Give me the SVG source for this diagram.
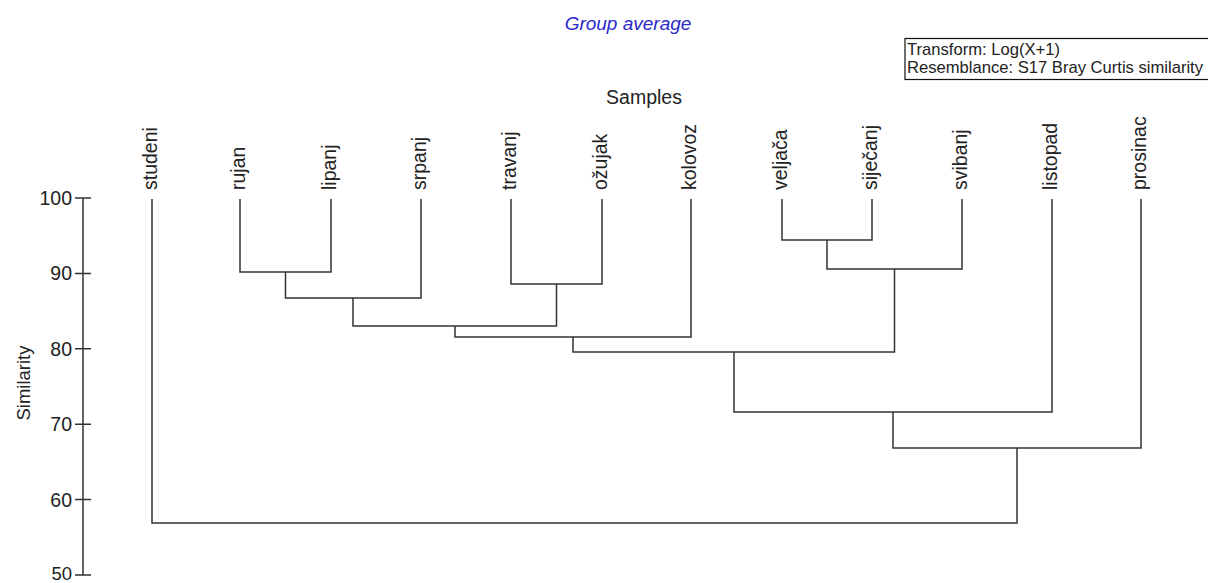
<svg xmlns="http://www.w3.org/2000/svg" width="1208" height="583" viewBox="0 0 1208 583">
<style>
text{font-family:"Liberation Sans",Arial,sans-serif;fill:#222}
.leaf{font-size:19.5px}
.tick{font-size:19.5px;text-anchor:end}
.ln{fill:none;stroke:#333;stroke-width:1.5}
.title{font-size:19px;font-style:italic;fill:#2a2ac8;text-anchor:middle}
.lg{font-size:16.6px}
</style>
<rect width="1208" height="583" fill="#fff"/>
<text class="title" x="628" y="30">Group average</text>
<g id="legend">
<rect x="905" y="38.5" width="340" height="41" fill="none" stroke="#111" stroke-width="1.2"/>
<text class="lg" x="907" y="55">Transform: Log(X+1)</text>
<text class="lg" x="907" y="73">Resemblance: S17 Bray Curtis similarity</text>
</g>
<text x="644" y="104" style="font-size:19.5px" text-anchor="middle">Samples</text>
<g id="axis">
<path class="ln" d="M83 198V575M75 198H91M75 273.4H91M75 348.8H91M75 424.2H91M75 499.6H91M75 575H91"/>
<text class="tick" x="72" y="205">100</text>
<text class="tick" x="72" y="280.4">90</text>
<text class="tick" x="72" y="355.8">80</text>
<text class="tick" x="72" y="431.2">70</text>
<text class="tick" x="72" y="506.6">60</text>
<text class="tick" x="72" y="580" style="font-size:18.5px">50</text>
<text x="30" y="383" style="font-size:18.5px" text-anchor="middle" transform="rotate(-90 30 383)">Similarity</text>
</g>
<g id="leaves">
<g id="studeni"><text class="leaf" transform="translate(157 190) rotate(-90)">studeni</text></g>
<g id="rujan"><text class="leaf" transform="translate(245 190) rotate(-90)">rujan</text></g>
<g id="lipanj"><text class="leaf" transform="translate(336 190) rotate(-90)">lipanj</text></g>
<g id="srpanj"><text class="leaf" transform="translate(426 190) rotate(-90)">srpanj</text></g>
<g id="travanj"><text class="leaf" transform="translate(516 190) rotate(-90)">travanj</text></g>
<g id="ozujak"><text class="leaf" transform="translate(607 190) rotate(-90)">ožujak</text></g>
<g id="kolovoz"><text class="leaf" transform="translate(696 190) rotate(-90)">kolovoz</text></g>
<g id="veljaca"><text class="leaf" transform="translate(787 190) rotate(-90)">veljača</text></g>
<g id="sijecanj"><text class="leaf" transform="translate(877 190) rotate(-90)">siječanj</text></g>
<g id="svibanj"><text class="leaf" transform="translate(967 190) rotate(-90)">svibanj</text></g>
<g id="listopad"><text class="leaf" transform="translate(1057 190) rotate(-90)">listopad</text></g>
<g id="prosinac"><text class="leaf" transform="translate(1146 190) rotate(-90)">prosinac</text></g>
</g>
<g id="connectors" class="ln">
<path class="ln" d="M240 199V272H331V199"/>
<path class="ln" d="M285.5 272V298H421V199"/>
<path class="ln" d="M511 199V284H602V199"/>
<path class="ln" d="M353 298V326H556.5V284"/>
<path class="ln" d="M455 326V337H691V199"/>
<path class="ln" d="M782 199V240H872V199"/>
<path class="ln" d="M827 240V269H962V199"/>
<path class="ln" d="M573 337V352H894.5V269"/>
<path class="ln" d="M734 352V412H1052V199"/>
<path class="ln" d="M893 412V448H1141V199"/>
<path class="ln" d="M152 199V523H1017V448"/>
</g>
</svg>
